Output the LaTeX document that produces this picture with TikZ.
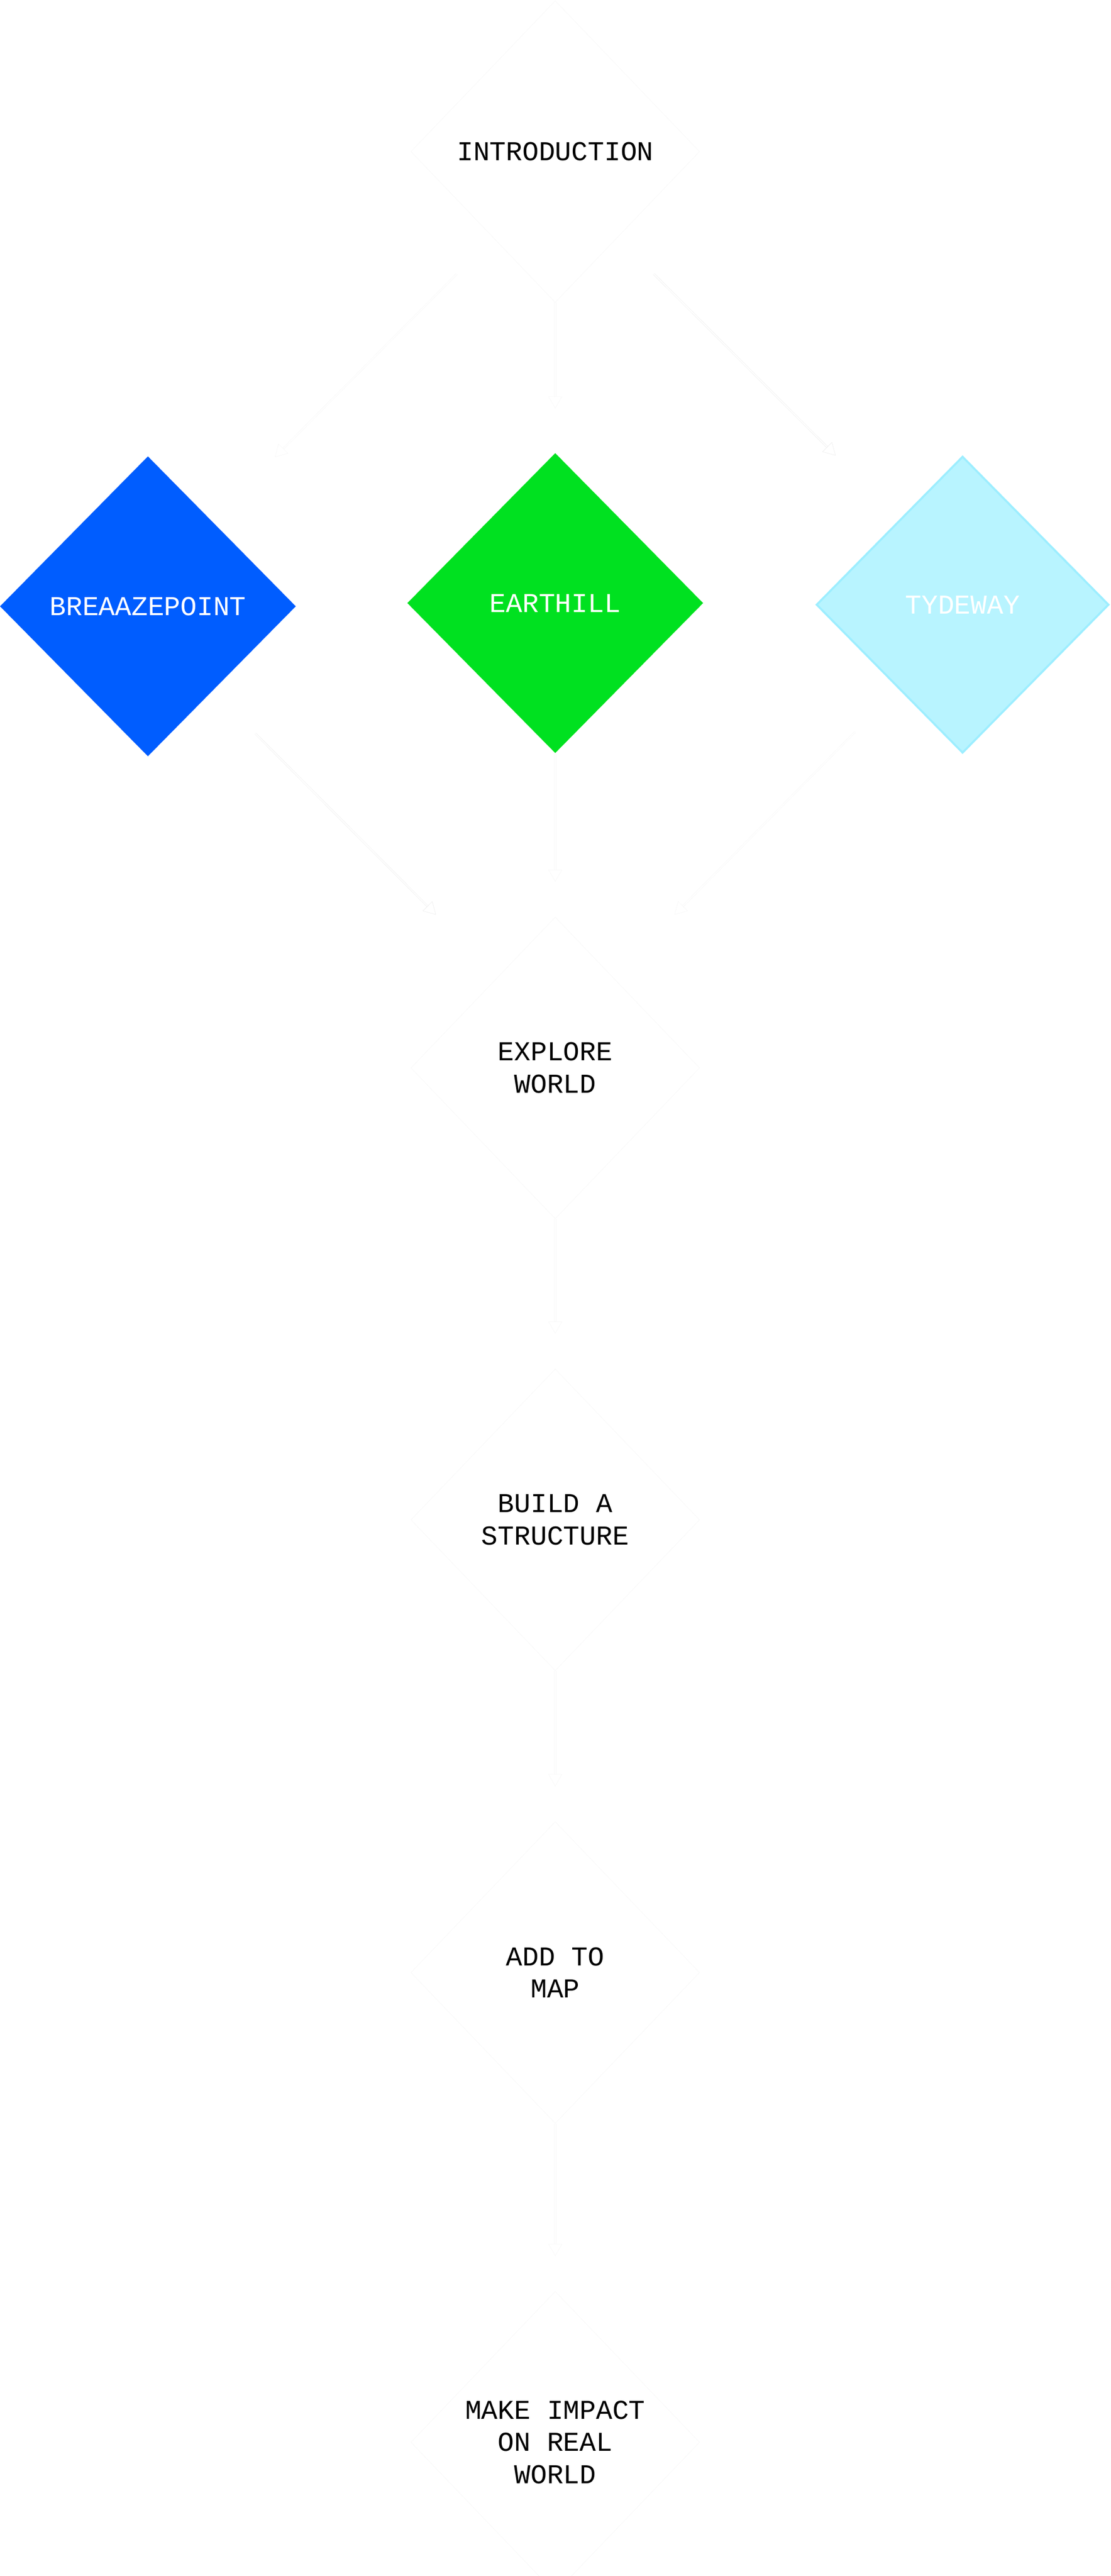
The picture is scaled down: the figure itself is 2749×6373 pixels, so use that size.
\documentclass[tikz,border=0pt]{standalone}
\usepackage{fontspec}
\setmonofont{Liberation Mono}
\usetikzlibrary{shapes.geometric,arrows.meta,calc}
\definecolor{bzblue}{HTML}{005DFF}
\definecolor{ehgreen}{HTML}{00E120}
\definecolor{tycyan}{HTML}{B8F4FF}
\definecolor{tyedge}{HTML}{9DEEFF}
\definecolor{faint}{HTML}{F9F9F9}
\definecolor{arrline}{HTML}{EDEDED}
\definecolor{arrpale}{HTML}{F7F7F7}
\begin{document}
\begin{tikzpicture}[x=1pt,y=-1pt,
  lbl/.style={font=\ttfamily\fontsize{67.5}{80}\selectfont, align=center, text=black},
  stage/.style={diamond, lbl, draw=faint, line width=1pt, fill=white,
    minimum width=714pt, minimum height=746pt, inner sep=0pt},
  world/.style={diamond, lbl, text=white, minimum width=732pt,
    minimum height=742pt, inner sep=0pt},
  arr/.style={draw=arrline, line width=0.8pt, double=white, double distance=3pt,
    -{Triangle[open,length=30pt,width=34pt]}},
  arrfaint/.style={arr, draw=arrpale}]
\fill[white] (0,0) rectangle (2749,6373);
\useasboundingbox (0,0) rectangle (2749,6373);

% top stage
\node[stage] (intro) at (1374,375) {INTRODUCTION};

% worlds
\node[world, fill=bzblue] (breaz) at (366,1500) {BREAAZEPOINT};
\node[world, fill=ehgreen] (earth) at (1374,1492) {EARTHILL};
\node[world, fill=tycyan, draw=tyedge, line width=5pt,
      minimum width=724pt, minimum height=734pt] (tyde) at (2382,1496) {TYDEWAY};

% lower stages
\node[stage] (explore) at (1374,2642) {EXPLORE\\WORLD};
\node[stage] (build) at (1374,3760) {BUILD A\\STRUCTURE};
\node[stage] (addmap) at (1374,4880) {ADD TO\\MAP};
\node[stage] (impact) at (1374,6042) {MAKE IMPACT\\ON REAL\\WORLD};

% connectors
\draw[arr] ($(intro.center)+(244,303)$) -- ($(tyde.center)+(-314,-369)$);
\draw[arrfaint] ($(intro.center)+(-244,303)$) -- ($(breaz.center)+(314,-369)$);
\draw[arrfaint] ($(intro.south)$) -- ($(earth.north)+(0,-110)$);
\draw[arr] ($(breaz.center)+(266,315)$) -- ($(explore.center)+(-295,-379)$);
\draw[arrfaint] ($(tyde.center)+(-266,315)$) -- ($(explore.center)+(295,-379)$);
\draw[arrfaint] ($(earth.south)$) -- ($(explore.north)+(0,-87)$);
\draw[arrfaint] ($(explore.south)$) -- ($(build.north)+(0,-87)$);
\draw[arrfaint] ($(build.south)$) -- ($(addmap.north)+(0,-87)$);
\draw[arrfaint] ($(addmap.south)$) -- ($(impact.north)+(0,-87)$);

% redraw stage nodes above connectors
\node[stage] at (intro.center) {INTRODUCTION};
\node[stage] at (explore.center) {EXPLORE\\WORLD};
\node[stage] at (build.center) {BUILD A\\STRUCTURE};
\node[stage] at (addmap.center) {ADD TO\\MAP};
\node[stage] at (impact.center) {MAKE IMPACT\\ON REAL\\WORLD};
\end{tikzpicture}
\end{document}
